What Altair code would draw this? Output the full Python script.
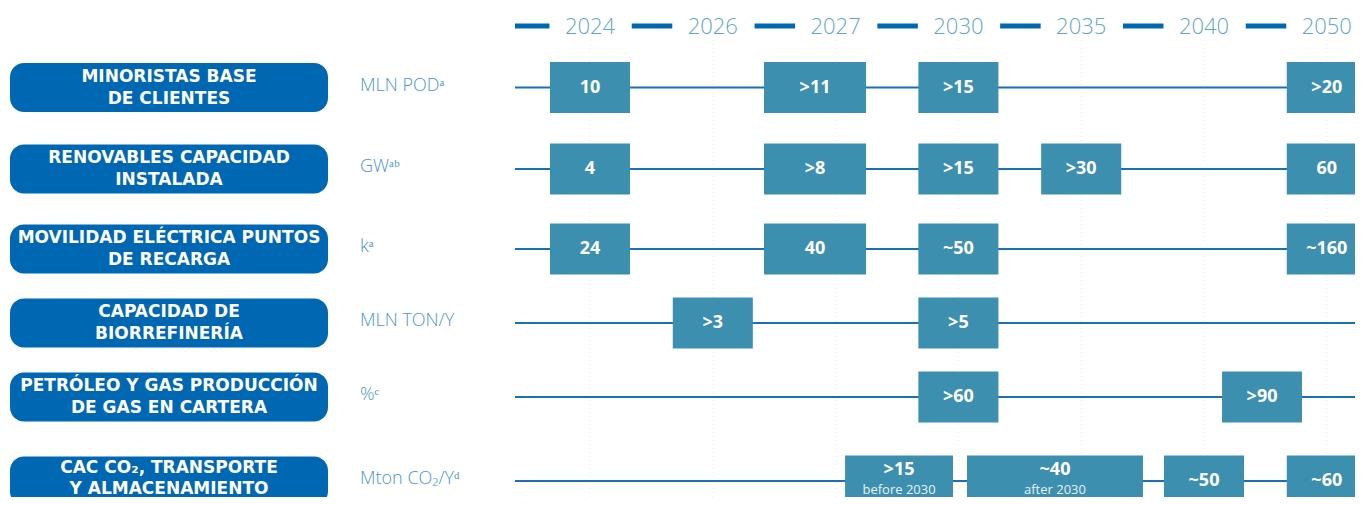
import altair as alt
import pandas as pd

# ---- data ----
years = ["2024", "2026", "2027", "2030", "2035", "2040", "2050"]
year_col = [0, 1, 2, 3, 4, 5, 6]

row_titles = [
    "MINORISTAS BASE\nDE CLIENTES",
    "RENOVABLES CAPACIDAD\nINSTALADA",
    "MOVILIDAD ELÉCTRICA PUNTOS\nDE RECARGA",
    "CAPACIDAD DE\nBIORREFINERÍA",
    "PETRÓLEO Y GAS PRODUCCIÓN\nDE GAS EN CARTERA",
    "CAC CO₂, TRANSPORTE\nY ALMACENAMIENTO",
]
row_units = ["MLN PODᵃ", "GWᵃᵇ", "kᵃ", "MLN TON/Y", "%ᶜ", "Mton CO₂/Yᵈ"]

box_row = [0, 0, 0, 0, 1, 1, 1, 1, 1, 2, 2, 2, 2, 3, 3, 4, 4, 5, 5, 5, 5]
box_start = [-0.326, 1.417, 2.674, 5.674,
             -0.326, 1.417, 2.674, 3.674, 5.674,
             -0.326, 1.417, 2.674, 5.674,
             0.674, 2.674,
             2.674, 5.147,
             2.077, 3.070, 4.674, 5.674]
box_end = [0.326, 2.248, 3.326, 6.326,
           0.326, 2.248, 3.326, 4.326, 6.326,
           0.326, 2.248, 3.326, 6.326,
           1.326, 3.326,
           3.326, 5.798,
           2.956, 4.503, 5.326, 6.326]
box_label = ["10", ">11", ">15", ">20",
             "4", ">8", ">15", ">30", "60",
             "24", "40", "~50", "~160",
             ">3", ">5",
             ">60", ">90",
             ">15", "~40", "~50", "~60"]
box_note = ["", "", "", "",
            "", "", "", "", "",
            "", "", "", "",
            "", "",
            "", "",
            "before 2030", "after 2030", "", ""]

# ---- layout / style ----
W, H = 1347, 489
X0, XSTEP = 582, 122.8           # plot px of column 0 and column spacing
row_px = [79.5, 161, 241, 315, 389, 473]
LINE_START_COL = -0.611
PILL = "#0068B3"
BOX = "#3D8FB0"
LINE = "#1A6FB8"
YEARC = "#5FA6C9"
UNITC = "#4C94D0"
FONT = "Open Sans"
TITLE_FONT = "DejaVu Sans"

xscale = alt.Scale(domain=[(0 - X0) / XSTEP, (W - X0) / XSTEP], nice=False, zero=False, padding=0)
yscale = alt.Scale(domain=list(range(len(row_titles))), range=row_px, nice=False, zero=False, padding=0)

years_df = pd.DataFrame({"year": years, "col": year_col})
years_df["d0"] = [max(c - 0.66, LINE_START_COL) for c in year_col]
years_df["d1"] = [c - 0.33 for c in year_col]

rows_df = pd.DataFrame({"row": list(range(len(row_titles))), "title": row_titles, "unit": row_units})
last_row = len(row_titles) - 1
rows_top = rows_df[rows_df["row"] < last_row]
rows_last = rows_df[rows_df["row"] == last_row]

boxes_df = pd.DataFrame({"row": box_row, "x0": box_start, "x1": box_end,
                         "label": box_label, "note": box_note})
boxes_df["xc"] = (boxes_df["x0"] + boxes_df["x1"]) / 2
single_df = boxes_df[boxes_df["note"] == ""]
double_df = boxes_df[boxes_df["note"] != ""]

X = lambda f: alt.X(f, type="quantitative", scale=xscale, axis=None)
Y = alt.Y("row:Q", scale=yscale, axis=None)

grid = alt.Chart(years_df).mark_rule(strokeDash=[1, 3], color="#ececec", strokeWidth=1).encode(
    x=X("col"), y=alt.value(32), y2=alt.value(H))

dashes = alt.Chart(years_df).mark_rule(strokeWidth=5, color=PILL).encode(
    x=X("d0"), x2="d1", y=alt.value(18))

year_text = alt.Chart(years_df).mark_text(
    fontSize=22, font=FONT, fontWeight=300, color=YEARC, baseline="middle", align="center"
).encode(x=X("col"), y=alt.value(19), text="year:N")

lines = alt.Chart(rows_df).mark_rule(strokeWidth=2, color=LINE).encode(
    x=alt.value(507), x2=alt.value(W), y=Y)

pills = alt.Chart(rows_df).mark_bar(size=49, cornerRadius=14, color=PILL, orient="horizontal").encode(
    x=alt.value(2), x2=alt.value(320), y=Y)

title_style = dict(lineBreak="\n", fontSize=17, font=TITLE_FONT, fontWeight="bold", color="white",
                   align="center", baseline="middle")
pill_text = alt.Chart(rows_top).mark_text(lineHeight=22, dy=-11, **title_style).encode(
    x=alt.value(161), y=Y, text="title:N")
pill_text_last = alt.Chart(rows_last).mark_text(lineHeight=21, dy=-13, **title_style).encode(
    x=alt.value(161), y=Y, text="title:N")

unit_text = alt.Chart(rows_df).mark_text(
    fontSize=18, font=FONT, fontWeight=300, color=UNITC, align="left", baseline="middle", dy=-2
).encode(x=alt.value(352), y=Y, text="unit:N")

boxes = alt.Chart(boxes_df).mark_bar(size=51, color=BOX, orient="horizontal").encode(
    x=X("x0"), x2="x1", y=Y)

lab1 = alt.Chart(single_df).mark_text(
    fontSize=18, font=FONT, fontWeight="bold", color="white", align="center", baseline="middle"
).encode(x=X("xc"), y=Y, text="label:N")

lab2 = alt.Chart(double_df).mark_text(
    fontSize=18, font=FONT, fontWeight="bold", color="white", align="center", baseline="middle", dy=-11
).encode(x=X("xc"), y=Y, text="label:N")

note = alt.Chart(double_df).mark_text(
    fontSize=13, font=FONT, color="#E6F1F6", align="center", baseline="middle", dy=9
).encode(x=X("xc"), y=Y, text="note:N")

chart = alt.layer(grid, dashes, year_text, lines, pills, pill_text, pill_text_last, unit_text,
                  boxes, lab1, lab2, note).properties(
    width=W, height=H, padding=0, autosize=alt.AutoSizeParams(type="none")
).configure_view(stroke=None)

chart.save("out.html", embed_options={"renderer": "svg", "actions": False})
